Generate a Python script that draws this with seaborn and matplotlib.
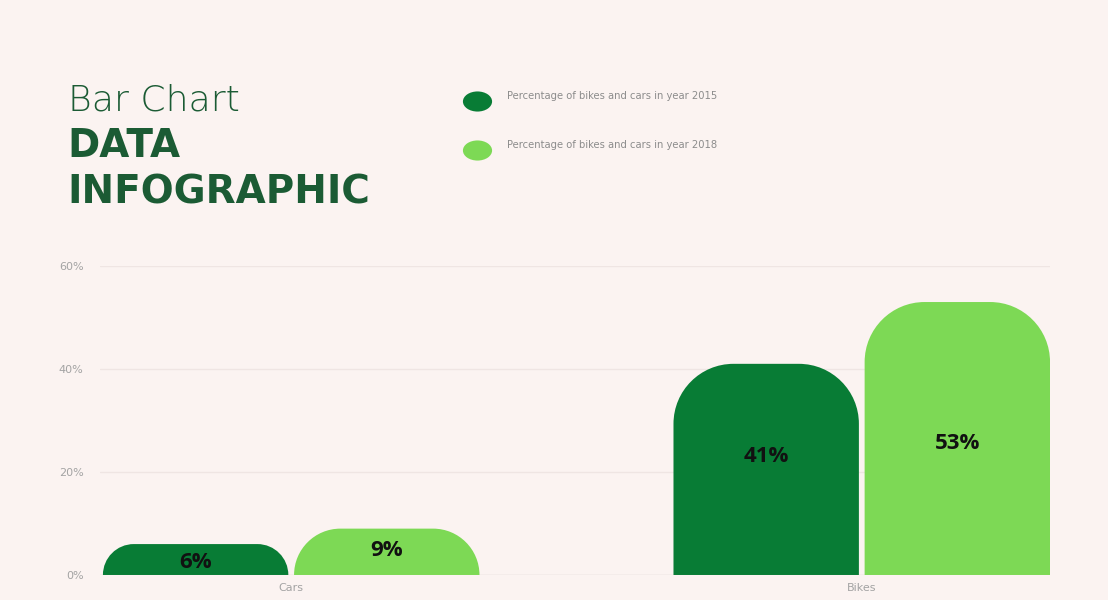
import numpy as np
import pandas as pd
import matplotlib
matplotlib.use("Agg")
import matplotlib.pyplot as plt
from matplotlib.path import Path
from matplotlib.patches import PathPatch
from matplotlib.lines import Line2D
from matplotlib.markers import MarkerStyle
from matplotlib.transforms import Affine2D
import seaborn as sns

categories = ["Cars", "Bikes"]
series_names = ["Percentage of bikes and cars in year 2015",
                "Percentage of bikes and cars in year 2018"]
values_2015 = [6, 41]
values_2018 = [9, 53]
y_ticks = [0, 20, 40, 60]
y_tick_labels = ["0%", "20%", "40%", "60%"]

BG = "#fbf3f1"
DARK = "#087c35"
LIGHT = "#7dd955"
TITLE = "#1b5b34"

df = pd.DataFrame({
    "category": categories * 2,
    "series": [series_names[0]] * 2 + [series_names[1]] * 2,
    "value": values_2015 + values_2018,
})

sns.set_theme(style="white")
plt.rcParams["font.family"] = ["DejaVu Sans"]

fig = plt.figure(figsize=(11.08, 6.0), dpi=100, facecolor=BG)
ax = fig.add_axes([0.0903, 0.0417, 0.8574, 0.515])
ax.set_facecolor(BG)

sns.barplot(data=df, x="category", y="value", hue="series", order=categories,
            hue_order=series_names, palette=[DARK, LIGHT], width=0.67, gap=0.03,
            ax=ax, legend=False, saturation=1)

ax.set_xlim(-0.335, 1.330)
ax.set_ylim(0, 60)

# gridlines
for t in y_ticks[1:]:
    ax.axhline(t, color="#efe5e3", lw=1.0, zorder=0)
ax.axhline(0, color="#dcd3d1", lw=1.0, zorder=0.5)
for s in ax.spines.values():
    s.set_visible(False)

ax.set_yticks(y_ticks)
ax.set_yticklabels(y_tick_labels, color="#a3a3a3", fontsize=8)
ax.tick_params(axis="y", length=0, pad=12)
ax.tick_params(axis="x", length=0, pad=6, labelsize=8, labelcolor="#a3a3a3")
ax.set_xlabel("")
ax.set_ylabel("")

# replace bars by rounded-top bars
fig.canvas.draw()
p0 = ax.transData.transform((0, 0))
p1 = ax.transData.transform((1, 1))
px_x = p1[0] - p0[0]
px_y = p1[1] - p0[1]
R = 60.0
K = 0.5523
patches = list(ax.patches)
for p in patches:
    x0 = p.get_x(); w = p.get_width(); h = p.get_height()
    if h <= 0:
        continue
    fc = p.get_facecolor()
    p.remove()
    r_px = min(R, h * px_y, w * px_x / 2)
    rx = r_px / px_x
    ry = r_px / px_y
    x1 = x0 + w
    verts = [
        (x0, 0), (x0, h - ry),
        (x0, h - ry + K * ry), (x0 + rx - K * rx, h), (x0 + rx, h),
        (x1 - rx, h),
        (x1 - rx + K * rx, h), (x1, h - ry + K * ry), (x1, h - ry),
        (x1, 0), (x0, 0),
    ]
    codes = [Path.MOVETO, Path.LINETO,
             Path.CURVE4, Path.CURVE4, Path.CURVE4,
             Path.LINETO,
             Path.CURVE4, Path.CURVE4, Path.CURVE4,
             Path.LINETO, Path.CLOSEPOLY]
    ax.add_patch(PathPatch(Path(verts, codes), facecolor=fc, edgecolor="none", zorder=2))

# value labels (vertical placement as fraction of bar height)
label_frac = [[0.42, 0.52], [0.56, 0.48]]
for i, cat in enumerate(categories):
    for j, vals in enumerate([values_2015, values_2018]):
        v = vals[i]
        xc = i + (-1 if j == 0 else 1) * 0.67 / 4
        ax.text(xc, v * label_frac[i][j], f"{v}%", ha="center", va="center", fontsize=16,
                fontweight="bold", color="#111111", zorder=3,
                family=["Open Sans", "DejaVu Sans"])

# titles
fig.text(0.061, 0.833, "Bar Chart", fontsize=26, color=TITLE, fontweight="light",
         va="center", ha="left")
fig.text(0.061, 0.757, "DATA", fontsize=28, color=TITLE, fontweight="heavy",
         va="center", ha="left")
fig.text(0.061, 0.679, "INFOGRAPHIC", fontsize=28, color=TITLE, fontweight="heavy",
         va="center", ha="left")

# legend (drawn by hand in figure coordinates)
ell = MarkerStyle(Path.unit_circle().transformed(Affine2D().scale(1.45, 1.0)))
legend_y = [1 - 101 / 600, 1 - 150 / 600]
for c, name, yy in zip((DARK, LIGHT), series_names, legend_y):
    fig.add_artist(Line2D([477 / 1108], [yy], transform=fig.transFigure, marker=ell,
                          markersize=21, color="none", markerfacecolor=c,
                          markeredgecolor="none"))
    fig.text(507 / 1108, yy + 5 / 600, name, fontsize=7.2, color="#8c8c8c",
             va="center", ha="left")

fig.savefig("out.png", dpi=100, facecolor=BG)
